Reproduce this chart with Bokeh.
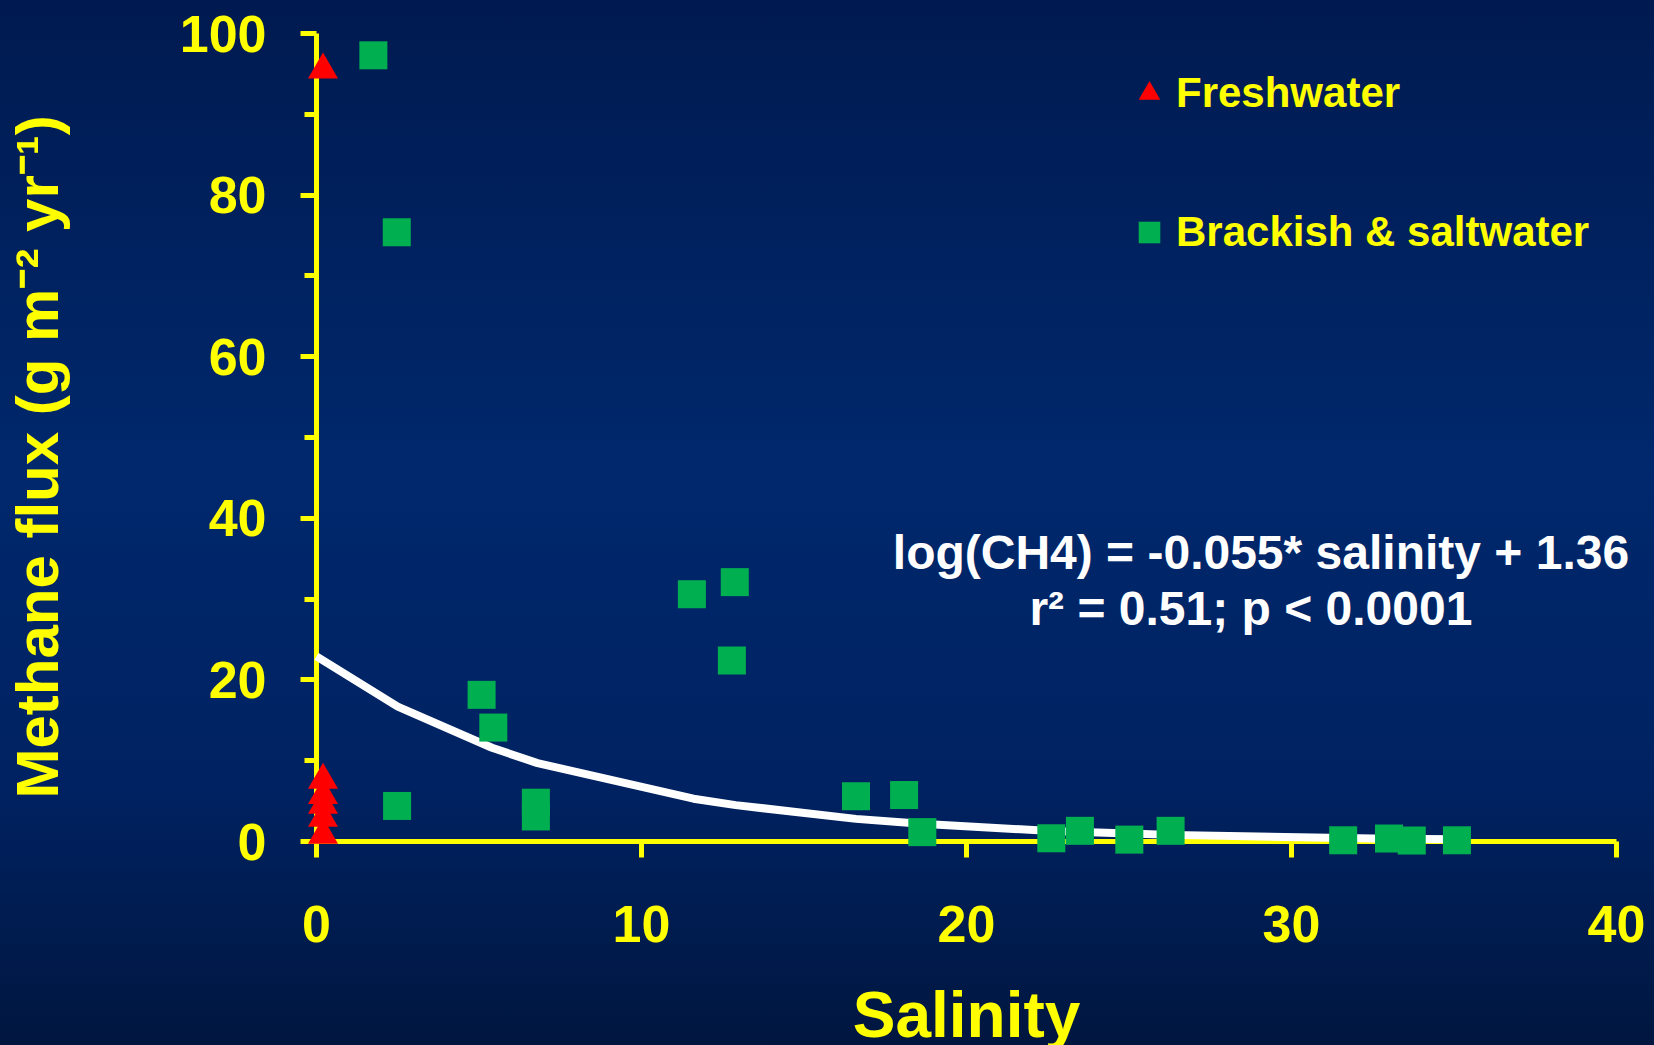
import math
from bokeh.plotting import figure
from bokeh.models import Range1d, FixedTicker, Legend, LegendItem
from bokeh.core.properties import value
from bokeh.embed import file_html
from bokeh.resources import INLINE

# ---- data ----
fresh_salinity = [0.2, 0.2, 0.2, 0.2, 0.2, 0.2]
fresh_flux = [95.5, 7.6, 5.7, 4.5, 2.9, 0.8]

salt_salinity = [1.75, 2.47, 2.48, 5.08, 5.44, 6.75, 6.75, 11.55, 12.87, 12.78,
                 16.6, 18.08, 18.64, 22.61, 23.49, 25.01, 26.28, 31.59, 33.0, 33.7, 35.09]
salt_flux = [97.3, 75.4, 4.4, 18.15, 14.1, 4.8, 3.1, 30.6, 32.1, 22.4,
             5.6, 5.75, 1.16, 0.4, 1.32, 0.23, 1.32, 0.15, 0.37, 0.12, 0.15]

fit_salinity = [0, 2.5, 5.4, 6.8, 11.6, 12.9, 16.6, 18.6, 22.6, 25.0, 26.3, 31.6, 33.0, 35.1]
fit_flux = [22.9, 16.7, 11.6, 9.7, 5.3, 4.5, 2.8, 2.2, 1.3, 1.0, 0.82, 0.42, 0.35, 0.27]

x_ticks = [0, 10, 20, 30, 40]
y_ticks = [0, 20, 40, 60, 80, 100]
y_minor_ticks = [10, 30, 50, 70, 90]

legend_labels = ["Freshwater", "Brackish & saltwater"]
equation_lines = ["log(CH4) = -0.055* salinity + 1.36", "r\u00b2 = 0.51; p < 0.0001"]
x_title = "Salinity"
y_title = "Methane flux (g m\u207b\u00b2 yr\u207b\u00b9)"

YELLOW = "#ffff00"
FONT = "Liberation Sans"

p = figure(width=1654, height=1045,
           x_range=Range1d(0, 40), y_range=Range1d(0, 100),
           output_backend="svg", toolbar_location=None,
           min_border_left=316, min_border_right=38,
           min_border_top=33, min_border_bottom=204)

p.background_fill_alpha = 0
p.border_fill_alpha = 0
p.outline_line_color = None
p.grid.visible = False

p.xaxis.ticker = FixedTicker(ticks=x_ticks)
p.yaxis.ticker = FixedTicker(ticks=y_ticks, minor_ticks=y_minor_ticks)

for ax in (p.xaxis, p.yaxis):
    ax.axis_line_color = YELLOW
    ax.axis_line_width = 5
    ax.major_tick_line_color = YELLOW
    ax.major_tick_line_width = 5
    ax.major_tick_in = 0
    ax.major_tick_out = 16
    ax.major_label_text_color = YELLOW
    ax.major_label_text_font = FONT
    ax.major_label_text_font_style = "bold"
    ax.major_label_text_font_size = "52px"

p.xaxis.minor_tick_line_color = None
p.xaxis.major_label_standoff = 48
p.yaxis.minor_tick_line_color = YELLOW
p.yaxis.minor_tick_line_width = 5
p.yaxis.minor_tick_in = 0
p.yaxis.minor_tick_out = 12
p.yaxis.major_label_standoff = 34

fit = p.line(fit_salinity, fit_flux, line_color="white", line_width=8, level="overlay")
sq = p.scatter(salt_salinity, salt_flux, marker="square", size=28,
               fill_color="#00b050", line_color=None, level="overlay")
tri = p.scatter(fresh_salinity, fresh_flux, marker="triangle", size=30,
                fill_color="#ff0000", line_color=None, level="overlay")

legend = Legend(items=[LegendItem(label=legend_labels[0], renderers=[tri]),
                       LegendItem(label=legend_labels[1], renderers=[sq])],
                location=(806, 582), orientation="vertical",
                glyph_width=54, glyph_height=54, label_standoff=0, spacing=85,
                padding=0, margin=0, border_line_color=None, background_fill_alpha=0,
                label_text_color=YELLOW, label_text_font=FONT,
                label_text_font_style="bold", label_text_font_size="42px")
p.add_layout(legend, "center")

txt = dict(text_font=value(FONT), text_font_style="bold", text_baseline="alphabetic",
           text_align="center", level="overlay")
p.text(x=[29.06, 28.75], y=[35.77, 28.86], text=equation_lines,
       text_color="white", text_font_size="48px", **txt)
p.text(x=[20], y=[-21.5], text=[x_title], text_color=YELLOW,
       text_font_size="64px", **txt)
p.text(x=[-8.6], y=[47.6], text=[y_title], angle=math.pi / 2, text_color=YELLOW,
       text_font_size="60px", **txt)

html = file_html(p, INLINE, title="Methane flux vs salinity")
style = ("<style>html{min-height:100%;background:linear-gradient(to bottom,"
         "#001a50 0%,#00286c 45%,#002262 75%,#00163f 100%);}</style>")
html = html.replace("</head>", style + "</head>", 1)
open("out.html", "w").write(html)
